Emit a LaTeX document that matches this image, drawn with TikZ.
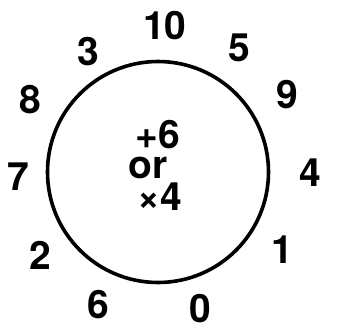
\documentclass[tikz,border=0pt]{standalone}
\usepackage{fontspec}
\setmainfont{TeX Gyre Heros}
\usetikzlibrary{positioning}

\begin{document}
\begin{tikzpicture}[
        x=1pt, y=-1pt,
        % This defines the style of the numbers
        digit/.style={inner sep=0pt, font=\fontsize{39}{42}\selectfont\bfseries},
        % This defines the style of the big ring
        ring/.style={circle, draw=black, line width=3.6pt, minimum size=221pt, inner sep=0pt}
    ]
    \useasboundingbox (0,0) rectangle (349,325);

    % --- THE RING ---
    \node (ring) [ring] at (158,172) {};

    % --- THE NUMBERS ROUND IT ---
    \node (n10) [digit] at (165,26) {10};
    \node (n5) [digit] at (239,48) {5};
    \node (n9) [digit] at (287,95) {9};
    \node (n4) [digit] at (310,173) {4};
    \node (n1) [digit] at (282,250) {1};
    \node (n0) [digit] at (200,309) {0};
    \node (n6) [digit] at (98,305) {6};
    \node (n2) [digit] at (40,255) {2};
    \node (n7) [digit] at (18,177) {7};
    \node (n8) [digit] at (30,100) {8};
    \node (n3) [digit] at (88,52) {3};

    % --- THE RULE INSIDE ---
    \node (plus) [digit] at (158,135) {+6};
    \node (or) [digit] at (148,168) {or};
    \node (times) [digit] at (160,197) {×4};

    \end{tikzpicture}
\end{document}
